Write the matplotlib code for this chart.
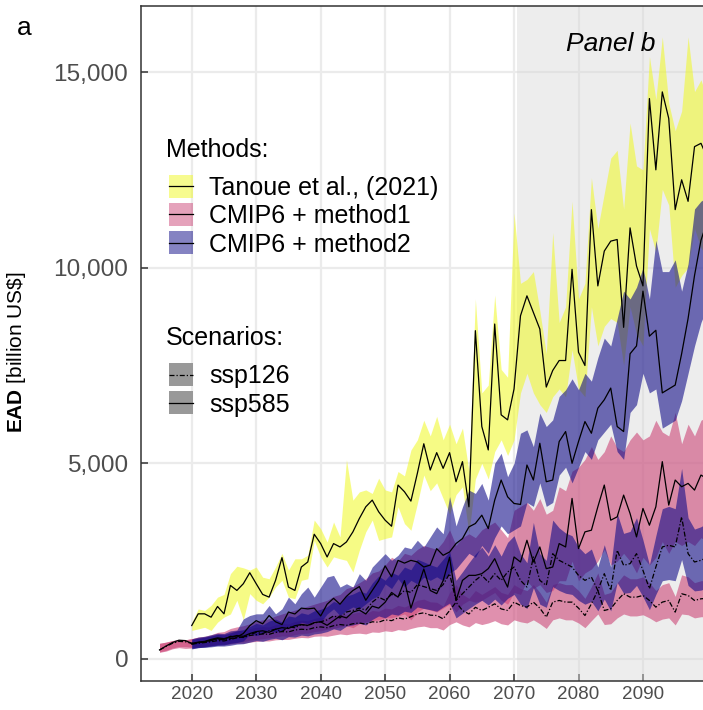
import matplotlib
matplotlib.use("Agg")
import matplotlib.pyplot as plt
from matplotlib.patches import Rectangle
from matplotlib.lines import Line2D
from matplotlib.ticker import FuncFormatter

plt.rcParams['font.family'] = 'Liberation Sans'
plt.rcParams['mathtext.fontset'] = 'custom'
plt.rcParams['mathtext.rm'] = 'Liberation Sans'
plt.rcParams['mathtext.bf'] = 'Liberation Sans:bold'

# ---- data ----
years_a = list(range(2015, 2101))   # method1 starts 2015
years_b = list(range(2020, 2101))   # Tanoue and method2 start 2020

tanoue_med = [855, 1154, 1154, 1068, 1342, 1154, 1880, 1752, 1923, 2205,
              1923, 1650, 1581, 2009, 2590, 1838, 1752, 2350, 2479, 3188,
              2949, 2607, 2949, 2863, 2991, 3248, 3590, 3889, 4060, 3761,
              3547, 3393, 4444, 4274, 4034, 4744, 5500, 4829, 5273, 4872,
              5273, 4530, 5043, 3889, 8390, 5940, 5342, 8560, 6239, 6111,
              6900, 8771, 9280, 8856, 8432, 6949, 7373, 7627, 7627, 9958,
              7839, 7500, 11483, 9534, 10424, 10678, 10720, 8475, 11017, 10042,
              9534, 14322, 12500, 14492, 13814, 11483, 12246, 11695, 13093, 13178, 12800]
tanoue_lo = [730, 770, 810, 730, 940, 1070, 1150, 1500, 1000, 1670,
             1500, 1410, 1580, 1840, 2010, 1580, 1540, 2010, 2050, 3030,
             2610, 2350, 2610, 2560, 2520, 2220, 2780, 3250, 3550, 3030,
             3080, 3120, 3890, 3460, 3290, 3970, 4700, 4300, 4500, 4100,
             3700, 4200, 4400, 3200, 4600, 5000, 4600, 5300, 5600, 5200,
             5600, 6800, 7300, 6800, 6500, 6300, 6700, 6900, 6700, 7900,
             6900, 6700, 9000, 8000, 8500, 8700, 8600, 7500, 9000, 8300,
             8000, 11000, 10400, 12000, 11600, 9500, 9800, 10000, 11000, 10500, 10300]
tanoue_hi = [940, 1280, 1240, 1370, 1580, 1650, 2180, 2370, 2330, 2270,
             2350, 2090, 2050, 2350, 2700, 2270, 2560, 2560, 2650, 3550,
             3330, 2990, 3500, 3120, 5090, 4060, 4270, 4320, 4230, 4620,
             4320, 4270, 4790, 4680, 5340, 5600, 6100, 5700, 6200, 5600,
             6000, 5500, 5900, 4800, 9200, 6800, 7000, 9300, 7400, 7200,
             11400, 9600, 9700, 9900, 8900, 7800, 10900, 8600, 9000, 11700,
             9200, 9600, 12300, 11000, 11900, 12800, 13000, 11500, 13700, 12600,
             12500, 15400, 14300, 15900, 14200, 13500, 14000, 15900, 14500, 14800, 14300]

m1_585_med = [230, 330, 420, 480, 470,
              400, 430, 450, 500, 540, 520, 560, 600, 580, 650,
              700, 720, 680, 760, 800, 780, 850, 880, 860, 930,
              950, 860, 980, 1100, 1050, 1200, 1250, 1150, 1350, 1300,
              1450, 1700, 1580, 2000, 1300, 1800, 2300, 1750, 1670, 2000,
              2600, 1500, 2009, 2137, 2137, 2180, 2308, 2564, 2180, 1838,
              2607, 2479, 3034, 2479, 2863, 2308, 2350, 2949, 2863, 4103,
              2821, 3248, 3291, 3889, 4445, 3547, 3632, 4188, 3718, 3120,
              3846, 3419, 3889, 5043, 3932, 4573, 4402, 4487, 4316, 4700, 4600]
m1_585_lo = [170, 200, 260, 290, 270,
             280, 300, 320, 340, 370, 390, 400, 430, 440, 480,
             500, 520, 540, 560, 590, 580, 620, 650, 660, 700,
             720, 760, 780, 820, 850, 800, 900, 950, 980, 1000,
             1050, 1050, 1100, 1150, 1000, 1200, 1300, 1250, 1200, 1300,
             1400, 1200, 1400, 1500, 1450, 1500, 1600, 1700, 1500, 1400,
             1700, 1650, 2000, 1800, 1900, 1700, 1750, 2000, 2000, 2500,
             2000, 2200, 2300, 2500, 2800, 2400, 2500, 2700, 2500, 2200,
             2600, 2400, 2600, 3000, 2700, 3000, 2900, 3000, 2900, 3100, 3000]
m1_585_hi = [400, 430, 470, 500, 490,
             520, 560, 580, 620, 680, 700, 780, 820, 850, 900,
             960, 1000, 1030, 1100, 1150, 1200, 1250, 1300, 1350, 1400,
             1450, 1500, 1600, 1650, 1800, 1850, 1950, 2050, 2200, 2250,
             2400, 2600, 2500, 2700, 2650, 2800, 2900, 2850, 2800, 3000,
             3300, 2900, 3100, 3200, 3100, 3300, 3400, 3500, 3300, 3100,
             3800, 3900, 4000, 3800, 4100, 3700, 3800, 4400, 4300, 4800,
             4900, 5100, 5427, 5100, 5300, 5700, 5400, 5300, 5600, 5800,
             5600, 5700, 6100, 5800, 5700, 6300, 5500, 6000, 5700, 6100, 6200]

m1_126_med = [230, 320, 400, 450, 440,
              400, 420, 430, 470, 500, 490, 520, 560, 550, 600,
              620, 640, 630, 680, 700, 690, 740, 760, 750, 800,
              820, 800, 850, 880, 860, 900, 920, 890, 950, 940,
              1000, 980, 1050, 1020, 1080, 1150, 1180, 1120, 1111, 1026,
              1239, 1450, 1239, 1150, 1320, 1239, 1320, 1410, 1280, 1240,
              1453, 1367, 1325, 1453, 1300, 1068, 1453, 1496, 1453, 1453,
              1300, 1111, 1410, 1752, 1239, 1282, 1496, 1667, 1581, 1581,
              1624, 1496, 1325, 1453, 1496, 1197, 1667, 1624, 1496, 1538, 1550]
m1_126_lo = [180, 220, 280, 320, 320,
             300, 310, 320, 340, 360, 360, 380, 400, 400, 430,
             450, 460, 460, 490, 500, 500, 530, 550, 540, 580,
             590, 580, 610, 640, 620, 650, 660, 640, 690, 680,
             720, 700, 750, 730, 780, 820, 840, 800, 800, 740,
             880, 950, 870, 820, 930, 880, 920, 980, 900, 870,
             1000, 950, 920, 1000, 900, 780, 1000, 1050, 1000, 1000,
             920, 800, 980, 1150, 880, 900, 1050, 1150, 1100, 1100,
             1130, 1050, 950, 1020, 1050, 870, 1150, 1130, 1050, 1080, 1080]
m1_126_hi = [400, 430, 470, 500, 490,
             520, 550, 560, 600, 640, 640, 690, 730, 720, 780,
             810, 830, 820, 880, 910, 900, 960, 990, 980, 1040,
             1070, 1040, 1110, 1150, 1120, 1170, 1200, 1160, 1240, 1220,
             1300, 1280, 1370, 1330, 1400, 1500, 1530, 1460, 1450, 1350,
             1700, 1900, 1650, 1550, 1750, 1650, 1750, 1850, 1700, 1650,
             1900, 1800, 1750, 1900, 1700, 1450, 1900, 1950, 1900, 1900,
             1750, 1550, 1850, 2200, 1650, 1700, 1950, 2150, 2050, 2050,
             2100, 1950, 1750, 1900, 1950, 1600, 2150, 2100, 1950, 2000, 2000]

m2_585_med = [380, 420, 440, 480, 520, 500, 580, 560, 650, 850,
              980, 900, 1110, 950, 880, 1200, 1150, 1300, 1280, 1300,
              1100, 1400, 1550, 1400, 1600, 1750, 1850, 1500, 1750, 2000,
              2380, 2100, 2520, 2450, 2520, 2480, 2350, 2400, 2820, 2650,
              2735, 2950, 3077, 3376, 3462, 3675, 3333, 4060, 4573, 4145,
              3974, 3950, 4957, 4573, 5513, 4530, 4573, 5556, 5812, 5000,
              5556, 6068, 5769, 6410, 6624, 6923, 5940, 5812, 7800, 8000,
              9400, 8250, 8400, 6800, 6900, 7000, 7800, 8700, 9800, 10700, 11200]
m2_585_lo = [256, 290, 300, 330, 350, 360, 400, 420, 460, 640,
             600, 640, 730, 680, 730, 810, 810, 940, 900, 980,
             940, 1150, 1280, 1110, 1240, 1330, 1280, 1410, 1540, 1620,
             1920, 1800, 2050, 1840, 2010, 1920, 2090, 2010, 2100, 2000,
             2200, 2300, 2500, 2700, 2600, 2900, 2700, 3100, 3400, 3200,
             3300, 3400, 4000, 3900, 4500, 3900, 4000, 4700, 4900, 4500,
             4900, 5300, 5100, 5600, 5800, 6000, 5300, 5100, 6300, 6500,
             7300, 6800, 6900, 5900, 6000, 6100, 6600, 7300, 8000, 8600, 9000]
m2_585_hi = [513, 560, 580, 620, 660, 650, 720, 740, 1025, 1111,
             1154, 1154, 1367, 1154, 1282, 1581, 1410, 1667, 1838, 1581,
             1838, 2094, 2137, 1838, 1923, 1838, 2180, 2009, 2350, 2521,
             2692, 2521, 2650, 2863, 2820, 3034, 2863, 3120, 3376, 3200,
             4150, 3400, 3889, 4316, 4231, 4487, 4060, 5000, 5256, 4658,
             5000, 5769, 5855, 5427, 6282, 5940, 6111, 6709, 6880, 7160,
             6880, 7300, 7100, 7700, 8200, 8000, 8700, 9400, 9200, 9500,
             10000, 9200, 10700, 9900, 9900, 10200, 9400, 10100, 11500, 11700, 11800]

m2_126_med = [380, 400, 420, 440, 470, 460, 500, 540, 560, 620,
              680, 650, 720, 760, 700, 820, 800, 880, 850, 920,
              950, 1000, 1100, 1050, 1200, 1240, 1300, 1250, 1450, 1580,
              1500, 1650, 1600, 1750, 1700, 1900, 1850, 1800, 1750, 1900,
              2180, 1496, 1667, 1838, 2009, 2137, 1966, 2180, 2009, 2222,
              2350, 2009, 1838, 2607, 2009, 1880, 2692, 2521, 2436, 2350,
              2137, 2009, 2094, 1752, 2180, 1752, 2778, 2393, 2436, 2692,
              2265, 1795, 2350, 2863, 2906, 2863, 3632, 2692, 2479, 2521, 2600]
m2_126_lo = [270, 290, 300, 310, 330, 330, 350, 380, 390, 430,
             470, 450, 500, 530, 490, 570, 560, 610, 590, 640,
             660, 700, 770, 730, 840, 870, 910, 870, 1010, 1100,
             1050, 1150, 1120, 1220, 1190, 1330, 1290, 1260, 1220, 1330,
             1430, 1050, 1170, 1290, 1400, 1500, 1380, 1530, 1380, 1550,
             1650, 1400, 1290, 1820, 1400, 1320, 1850, 1750, 1680, 1650,
             1500, 1400, 1470, 1230, 1530, 1230, 1950, 1680, 1700, 1880,
             1590, 1260, 1650, 2000, 2030, 2000, 2540, 1880, 1740, 1760, 1820]
m2_126_hi = [500, 530, 560, 590, 630, 620, 670, 720, 750, 830,
             910, 870, 970, 1020, 940, 1100, 1070, 1180, 1140, 1230,
             1270, 1340, 1470, 1410, 1610, 1660, 1740, 1680, 1940, 2120,
             2010, 2210, 2140, 2350, 2280, 2550, 2480, 2410, 2350, 2550,
             2750, 2010, 2230, 2460, 2680, 2860, 2630, 2920, 2630, 2980,
             3150, 2690, 2460, 3490, 2690, 2520, 3550, 3350, 3220, 3150,
             2860, 2690, 2810, 2350, 2920, 2350, 3720, 3210, 3260, 3610,
             3040, 2410, 3150, 3840, 3900, 3840, 4870, 3610, 3320, 3380, 3480]

# plasma-like colours used in the figure
c_tanoue = '#F0F921'
c_m1 = '#CC4678'
c_m2 = '#0D0887'
dotdash = (0, (4, 1.6, 1, 1.6))

W, H = 703, 710
fig = plt.figure(figsize=(W / 100, H / 100), dpi=100)
# the panel runs past the right edge of the picture (cropped like the original)
ax = fig.add_axes([140.7 / W, 29.3 / H, (733.2 - 140.7) / W, (704 - 29.3) / H])
ax.set_xlim(2012.08, 2104.0)
ax.set_ylim(-555, 16687)

ax.set_axisbelow(True)
ax.grid(True, color='#ebebeb', lw=1.6)
ax.axvspan(2070.5, 2110, color='#d9d9d9', alpha=0.45, lw=0, zorder=0.7)

# bands
ax.fill_between(years_b, tanoue_lo, tanoue_hi, color=c_tanoue, alpha=0.55, lw=0)
ax.fill_between(years_a, m1_126_lo, m1_126_hi, color=c_m1, alpha=0.6, lw=0)
ax.fill_between(years_a, m1_585_lo, m1_585_hi, color=c_m1, alpha=0.6, lw=0)
ax.fill_between(years_b, m2_126_lo, m2_126_hi, color=c_m2, alpha=0.58, lw=0)
ax.fill_between(years_b, m2_585_lo, m2_585_hi, color=c_m2, alpha=0.58, lw=0)

# medians
ax.plot(years_b, tanoue_med, color='black', lw=0.9)
ax.plot(years_a, m1_126_med, color='black', lw=0.9, ls=dotdash)
ax.plot(years_a, m1_585_med, color='black', lw=0.9)
ax.plot(years_b, m2_126_med, color='black', lw=0.9, ls=dotdash)
ax.plot(years_b, m2_585_med, color='black', lw=0.9)

ax.set_xticks(range(2020, 2091, 10))
ax.set_yticks([0, 5000, 10000, 15000])
ax.yaxis.set_major_formatter(FuncFormatter(lambda v, p: f'{int(v):,}'))
ax.tick_params(direction='in', length=5, width=1.1, color='#333333')
ax.tick_params(axis='x', labelsize=13.6, labelcolor='#4d4d4d', pad=4)
ax.tick_params(axis='y', labelsize=17.6, labelcolor='#4d4d4d', pad=9)
# keep the 2100 grid line (no label, it sits past the crop)
ax.axvline(2100, color='#ebebeb', lw=1.6, zorder=0.5)
for s in ax.spines.values():
    s.set_color('#333333')
    s.set_linewidth(1.1)

fig.text(17 / W, 1 - 352 / H, r'$\mathbf{EAD}$ [billion US\$]', rotation=90,
         ha='center', va='center', fontsize=15)
fig.text(17 / W, 1 - 35 / H, 'a', fontsize=19)
fig.text(610.8 / W, 1 - 50.7 / H, 'Panel b', fontsize=19, style='italic',
         ha='center', va='baseline')


# hand-made legends (two blocks, like the ggplot guides)
def legend_block(title, title_y, rows):
    fig.text(166 / W, 1 - (title_y + 8.5) / H, title, fontsize=18, va='baseline')
    for yc, fc, alpha, ls, label in rows:
        fig.add_artist(Rectangle((169.3 / W, 1 - (yc + 11.8) / H), 23.4 / W, 23.6 / H,
                                 transform=fig.transFigure, facecolor=fc,
                                 alpha=alpha, edgecolor='none'))
        fig.add_artist(Line2D([169.3 / W, 192.7 / W], [1 - yc / H] * 2,
                              transform=fig.transFigure, color='black', lw=0.9, ls=ls))
        fig.text(209.3 / W, 1 - (yc + 9) / H, label, fontsize=18, va='baseline')


legend_block('Methods:', 148.3, [
    (186.3, c_tanoue, 0.5, '-', 'Tanoue et al., (2021)'),
    (214.3, c_m1, 0.5, '-', 'CMIP6 + method1'),
    (242.5, c_m2, 0.5, '-', 'CMIP6 + method2'),
])
legend_block('Scenarios:', 336.7, [
    (374.5, '#999999', 1, dotdash, 'ssp126'),
    (402.6, '#999999', 1, '-', 'ssp585'),
])

fig.savefig('out.png', dpi=100)
